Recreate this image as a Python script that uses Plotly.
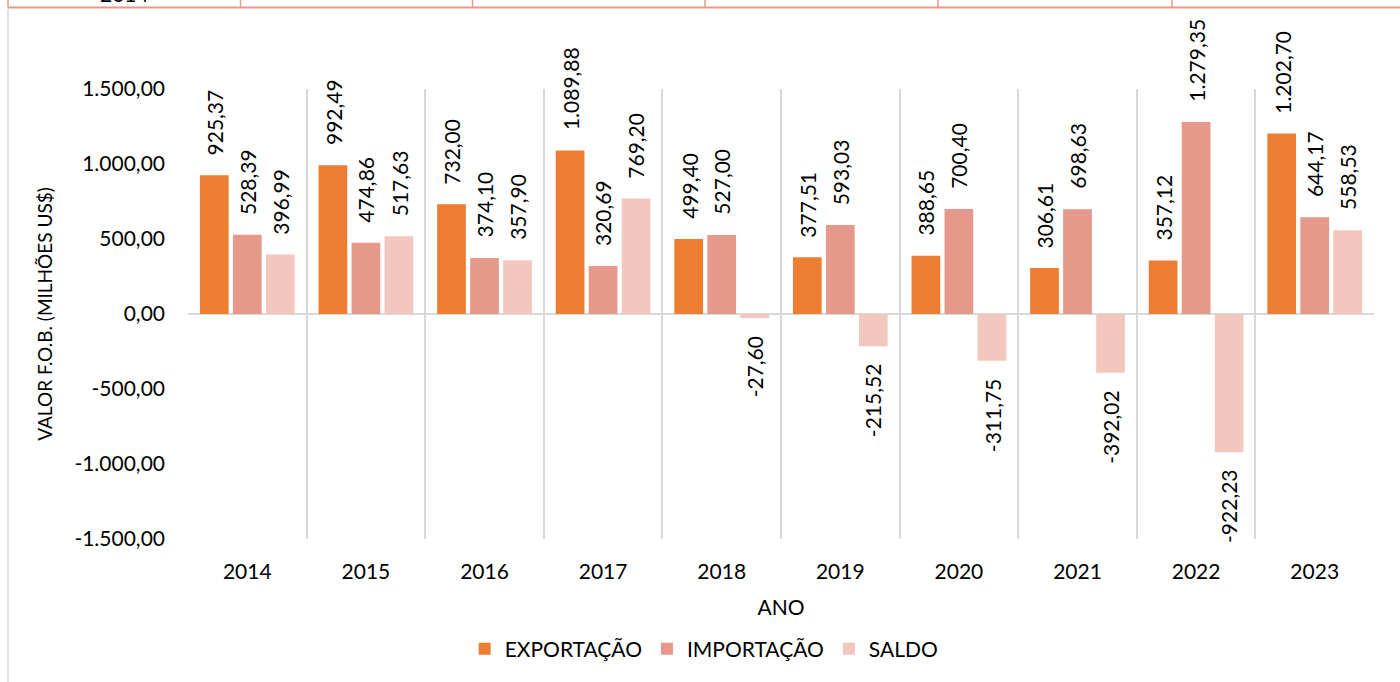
import plotly.graph_objects as go

anos = ["2014", "2015", "2016", "2017", "2018", "2019", "2020", "2021", "2022", "2023"]
exportacao = [925.37, 992.49, 732.00, 1089.88, 499.40, 377.51, 388.65, 306.61, 357.12, 1202.70]
importacao = [528.39, 474.86, 374.10, 320.69, 527.00, 593.03, 700.40, 698.63, 1279.35, 644.17]
saldo = [396.99, 517.63, 357.90, 769.20, -27.60, -215.52, -311.75, -392.02, -922.23, 558.53]
series_names = ["EXPORTAÇÃO", "IMPORTAÇÃO", "SALDO"]
y_ticks = [-1500, -1000, -500, 0, 500, 1000, 1500]

colors = ["#ED7D31", "#E6998A", "#F2C7BE"]
FONT = "Lato, Carlito, Calibri, 'Open Sans', sans-serif"
FS = 21

W, H = 1400, 682
L, R, T, B = 188, 26, 89, 143
PW, PH = W - L - R, H - T - B
BARGAP, GROUPGAP = 0.165, 0.13


def br(v):
    s = f"{v:,.2f}"
    return s.replace(",", "X").replace(".", ",").replace("X", ".")


def px_x(px):
    return (px - L) / PW


def px_y(py):
    return (H - B - py) / PH


fig = go.Figure()
data = [exportacao, importacao, saldo]
for name, vals, col in zip(series_names, data, colors):
    fig.add_trace(go.Bar(x=anos, y=vals, name=name, marker=dict(color=col, line=dict(width=0))))

slot = (1 - BARGAP) / 3
annotations = []
for k, vals in enumerate(data):
    off = (k - 1) * slot
    for i, v in enumerate(vals):
        annotations.append(dict(
            x=i + off, y=v, xref="x", yref="y", text=br(v), showarrow=False,
            textangle=-90, font=dict(family=FONT, size=FS, color="#000000"),
            yanchor="bottom" if v >= 0 else "top", xanchor="center",
            yshift=18 if v >= 0 else -16,
        ))

# clipped table fragment text at the very top (only its lower edge is visible)
annotations.append(dict(x=px_x(124), y=px_y(8), xref="paper", yref="paper", text="2014",
                        showarrow=False, yanchor="bottom", xanchor="center",
                        font=dict(family=FONT, size=FS, color="#000000")))

salmon = "#E59A8A"
shapes = [
    dict(type="line", xref="paper", yref="paper", x0=px_x(8), x1=px_x(1400), y0=px_y(7.5), y1=px_y(7.5),
         line=dict(color=salmon, width=2)),
    dict(type="line", xref="paper", yref="paper", x0=px_x(8), x1=px_x(8), y0=px_y(9), y1=px_y(682),
         line=dict(color="#D9D9D9", width=1.5)),
]
for xv in [8, 240.5, 472.5, 705, 938, 1172]:
    shapes.append(dict(type="line", xref="paper", yref="paper", x0=px_x(xv), x1=px_x(xv),
                       y0=px_y(0), y1=px_y(7.5), line=dict(color=salmon, width=1.5)))

fig.update_layout(
    width=W, height=H,
    margin=dict(l=L, r=R, t=T, b=B, pad=0),
    paper_bgcolor="white", plot_bgcolor="white",
    barmode="group", bargap=BARGAP, bargroupgap=GROUPGAP,
    font=dict(family=FONT, size=FS, color="#000000"),
    showlegend=True,
    legend=dict(orientation="h", xref="container", yref="container", x=0.503, y=1 - 649 / H,
                xanchor="center", yanchor="middle", font=dict(family=FONT, size=FS),
                itemwidth=30, tracegroupgap=0, traceorder="normal"),
    annotations=annotations,
    shapes=shapes,
)
fig.update_xaxes(
    type="category", tickson="boundaries", showgrid=True, gridcolor="#D9D9D9", gridwidth=2,
    ticks="", showline=False, zeroline=False, ticklabelstandoff=18,
    title=dict(text="ANO", font=dict(family=FONT, size=FS), standoff=18),
    tickfont=dict(family=FONT, size=FS),
)
fig.update_yaxes(
    range=[-1500, 1500], tickvals=y_ticks, ticktext=[br(v) for v in y_ticks],
    showgrid=False, zeroline=True, zerolinecolor="#D9D9D9", zerolinewidth=2,
    showline=False, ticks="", ticklabelstandoff=22,
    title=dict(text="VALOR F.O.B. (MILHÕES US$)", font=dict(family=FONT, size=19), standoff=16),
    tickfont=dict(family=FONT, size=FS),
)

fig.write_html("out.html")
